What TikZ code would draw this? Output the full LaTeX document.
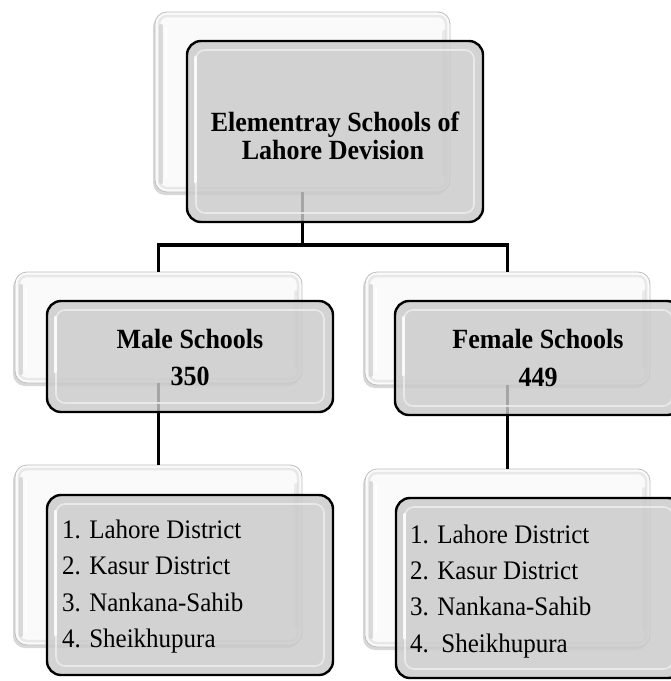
\documentclass[tikz,border=0pt]{standalone}
\usepackage{fontspec}
\usepackage{graphicx}
\setmainfont{Liberation Serif}
\usetikzlibrary{shadows}
\definecolor{frontgray}{RGB}{202,202,202}
\definecolor{backedge}{RGB}{190,190,190}
\definecolor{backfill}{RGB}{250,250,250}
\newcommand{\tall}[1]{\scalebox{1}[1.07]{#1}}
\tikzset{
  backbox/.style={rectangle, rounded corners=12pt, draw=backedge, line width=0.8pt, fill=backfill,
    inner sep=0pt, outer sep=0pt,
    drop shadow={shadow xshift=-2pt, shadow yshift=-3pt, fill=gray!55, opacity=0.55}},
  backbevel/.style={rounded corners=8pt, draw=gray!18, line width=2.5pt},
  backside/.style={draw=gray!35, line width=4pt, line cap=round, draw opacity=0.8},
  backgloss/.style={draw=white, line width=2pt, line cap=round},
  frontbox/.style={rectangle, rounded corners=14pt, draw=black, line width=2.4pt, fill=frontgray,
    fill opacity=0.82, inner sep=0pt, outer sep=0pt},
  bevel/.style={rounded corners=9pt, draw=white!70!frontgray, line width=1.6pt, draw opacity=0.8},
  gloss/.style={draw=white, line width=3pt, line cap=round, draw opacity=0.85},
  conn/.style={line width=3.6pt, draw=black},
  headtxt/.style={font=\bfseries\fontsize{26}{24}\selectfont, anchor=base, inner sep=0pt},
  listtxt/.style={font=\fontsize{25}{30}\selectfont, anchor=base west, inner sep=0pt},
}
\begin{document}
\begin{tikzpicture}[x=1pt, y=-1pt]
\useasboundingbox (0,0) rectangle (671,681);
\clip (0,0) rectangle (671,681);
\fill[white] (0,0) rectangle (671,681);
% back boxes
\node[backbox, minimum width=295pt, minimum height=180pt] (bTop) at (302.5,102) {};
\node[backbox, minimum width=287pt, minimum height=111pt] (bMale) at (158.5,327.5) {};
\node[backbox, minimum width=285pt, minimum height=113pt] (bFemale) at (507.5,328.5) {};
\node[backbox, minimum width=287pt, minimum height=180pt] (bMaleList) at (158.5,555) {};
\node[backbox, minimum width=285pt, minimum height=178pt] (bFemaleList) at (507.5,558) {};
\foreach \n in {bTop,bMale,bFemale,bMaleList,bFemaleList}{
  \draw[backbevel] ([xshift=4pt,yshift=-4pt]\n.north west) rectangle ([xshift=-4pt,yshift=4pt]\n.south east);
  \draw[backside] ([xshift=6pt,yshift=-14pt]\n.north west) -- ([xshift=6pt,yshift=10pt]\n.south west);
  \draw[backgloss] ([xshift=11pt,yshift=-16pt]\n.north west) -- ([xshift=11pt,yshift=14pt]\n.south west);
  \draw[backside, draw opacity=0.4] ([xshift=-6pt,yshift=-20pt]\n.north east) -- ([xshift=-6pt,yshift=18pt]\n.south east);
}
% connectors
\coordinate (hub) at (302.5,245);
\draw[conn] (bTop.south) -- (hub) -| (bMale.north);
\draw[conn] (hub) -| (bFemale.north);
\draw[conn] (bMale.south) -- (bMaleList.north);
\draw[conn] (bFemale.south) -- (bFemaleList.north);
% front boxes
\node[frontbox, minimum width=296pt, minimum height=181pt] (fTop) at (335,131.5) {};
\node[frontbox, minimum width=286pt, minimum height=111pt] (fMale) at (190,356.5) {};
\node[frontbox, minimum width=286pt, minimum height=114pt] (fFemale) at (538,358) {};
\node[frontbox, minimum width=286pt, minimum height=180pt] (fMaleList) at (190,585) {};
\node[frontbox, minimum width=286pt, minimum height=180pt] (fFemaleList) at (539,588) {};
\foreach \n in {fTop,fMale,fFemale,fMaleList,fFemaleList}{
  \draw[bevel] ([xshift=9pt,yshift=-9pt]\n.north west) rectangle ([xshift=-9pt,yshift=9pt]\n.south east);
  \draw[gloss] ([xshift=8pt,yshift=-16pt]\n.north west) -- ([xshift=8pt,yshift=40pt]\n.south west);
}
% texts
\node[headtxt] (t1) at (335,131) {\tall{Elementray Schools of}};
\node[headtxt] (t2) at (333,159) {\tall{Lahore Devision}};
\node[headtxt] (m1) at (190,348) {\tall{Male Schools}};
\node[headtxt] (m2) at (190,385) {\tall{350}};
\node[headtxt] (f1) at (538,348) {\tall{Female Schools}};
\node[headtxt] (f2) at (538,386) {\tall{449}};
\node[listtxt] (ml1) at (62,538) {\tall{1. Lahore District}};
\node[listtxt] (ml2) at (62,574) {\tall{2. Kasur District}};
\node[listtxt] (ml3) at (62,611) {\tall{3. Nankana-Sahib}};
\node[listtxt] (ml4) at (62,647) {\tall{4. Sheikhupura}};
\node[listtxt] (fl1) at (410,543) {\tall{1. Lahore District}};
\node[listtxt] (fl2) at (410,579) {\tall{2. Kasur District}};
\node[listtxt] (fl3) at (410,615) {\tall{3. Nankana-Sahib}};
\node[listtxt] (fl4) at (410,652) {\tall{4.\ \ Sheikhupura}};
\end{tikzpicture}
\end{document}
